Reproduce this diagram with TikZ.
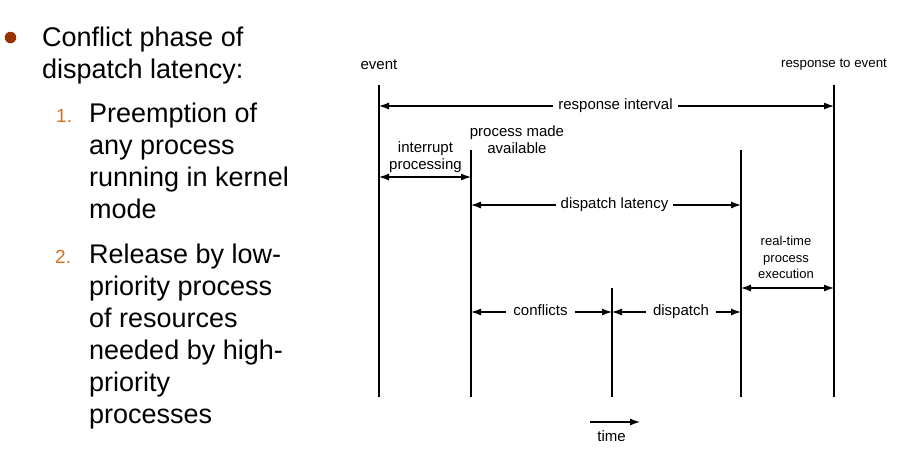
\documentclass[tikz,border=0pt]{standalone}
\usepackage{fontspec}
\setmainfont{Liberation Sans}
\usetikzlibrary{arrows.meta}
\definecolor{bulletred}{HTML}{993300}
\definecolor{numorange}{RGB}{208,112,32}
\tikzset{
  timeline/.style={line width=1.6pt},
  span/.style={line width=1.2pt, {Latex[length=10pt,width=7pt]}-{Latex[length=10pt,width=7pt]}},
  lbl/.style={fill=white, anchor=mid, inner xsep=5pt, inner ysep=1pt, font=\fontsize{15}{17}\selectfont},
  smalllbl/.style={align=center, inner sep=0pt, font=\fontsize{13}{16.7}\selectfont},
  toplbl/.style={align=center, inner sep=0pt, font=\fontsize{15}{16.7}\selectfont},
  slide/.style={anchor=base west, inner sep=0pt, align=left, font=\fontsize{27}{32}\selectfont},
  numtext/.style={anchor=base west, inner sep=0pt, text=numorange, font=\fontsize{19}{32}\selectfont},
}
\begin{document}
\begin{tikzpicture}[x=1pt,y=-1pt]
\useasboundingbox (0,0) rectangle (906,472);
% left side text (base = last line)
\node[circle, fill=bulletred, inner sep=0pt, minimum size=11.5pt] (dot) at (10.5,37.5) {};
\node[slide] (head) at (42,78) {Conflict phase of\\dispatch latency:};
\node[numtext] (n1) at (56,122.7) {1.};
\node[slide] (item1) at (89,218) {Preemption of\\any process\\running in kernel\\mode};
\node[numtext] (n2) at (55,263.3) {2.};
\node[slide] (item2) at (89,423.3) {Release by low-\\priority process\\of resources\\needed by high-\\priority\\processes};
% time lines
\coordinate (evT) at (379,85);  \coordinate (evB) at (379,397);
\coordinate (avT) at (471,150); \coordinate (avB) at (471,397);
\coordinate (cfT) at (612,288); \coordinate (cfB) at (612,397);
\coordinate (dpT) at (741,150); \coordinate (dpB) at (741,397);
\coordinate (rsT) at (834,85);  \coordinate (rsB) at (834,397);
\draw[timeline] (evT) -- (evB);
\draw[timeline] (avT) -- (avB);
\draw[timeline] (cfT) -- (cfB);
\draw[timeline] (dpT) -- (dpB);
\draw[timeline] (rsT) -- (rsB);
% rows of the arrows
\coordinate (riY) at (0,106);
\coordinate (ipY) at (0,177);
\coordinate (dlY) at (0,205);
\coordinate (rtY) at (0,288);
\coordinate (cfY) at (0,312);
\draw[span] (evT |- riY) -- (rsT |- riY);
\draw[span] (evT |- ipY) -- (avT |- ipY);
\draw[span] (avT |- dlY) -- (dpT |- dlY);
\draw[span] (dpT |- rtY) -- (rsT |- rtY);
\draw[span] (avT |- cfY) -- (cfT |- cfY);
\draw[span] (cfT |- cfY) -- (dpT |- cfY);
% labels
\node[toplbl] (event) at (379,65) {event};
\node[smalllbl, font=\fontsize{13.3}{16}\selectfont] (resp) at (834,65) {response to event};
\node[lbl] (ri) at (615.5,107) {response interval};
\node[toplbl] (ip) at (425.5,157.4) {interrupt\\processing};
\node[toplbl] (pma) at (517,139.3) {process made\\available};
\node[lbl] (dl) at (614.5,206) {dispatch latency};
\node[smalllbl] (rt) at (786,257.5) {real-time\\process\\execution};
\node[lbl, inner xsep=7pt] (cf) at (540.5,313) {conflicts};
\node[lbl, inner xsep=7pt] (dp) at (681,313) {dispatch};
% time arrow
\coordinate (tA) at (590,422);
\coordinate (tB) at (640,422);
\draw[line width=1.2pt, -{Latex[length=10pt,width=7pt]}] (tA) -- (tB);
\node[toplbl] (time) at (611.5,436) {time};
\end{tikzpicture}
\end{document}
